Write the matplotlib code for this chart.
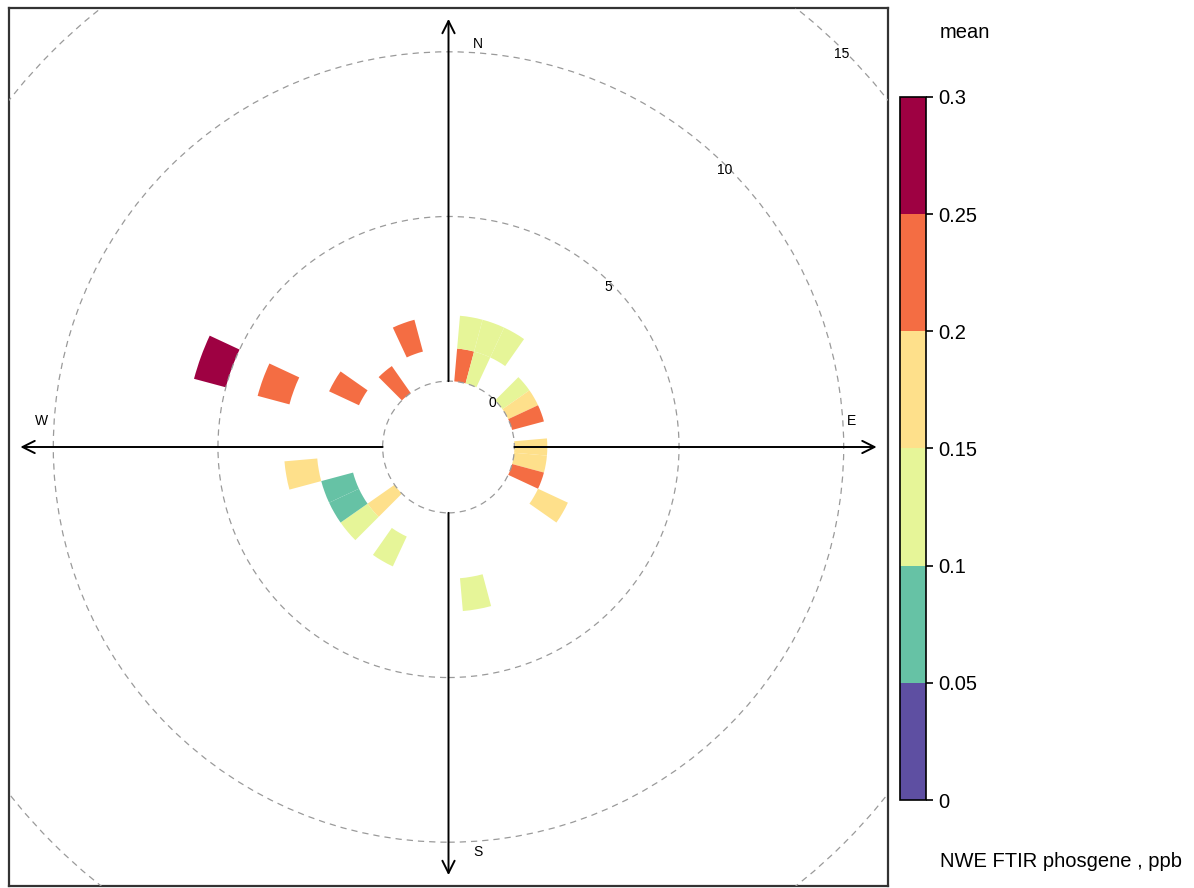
import matplotlib
matplotlib.use('Agg')
import matplotlib.pyplot as plt
import numpy as np
from matplotlib.patches import Wedge, Circle
from matplotlib.colors import ListedColormap, BoundaryNorm
from matplotlib.cm import ScalarMappable

plt.rcParams['font.family'] = ['Liberation Sans', 'DejaVu Sans']

# wind direction bin centres (deg), lower wind speed of each bin, mean concentration
wd = [10, 20, 10, 20, 30, 50, 60, 70, 90, 100, 110, 120, 170,
      210, 230, 230, 240, 250, 260, 290, 290, 300, 320, 340]
ws = [0, 0, 1, 1, 1, 0, 0, 0, 0, 0, 0, 1, 2,
      1, 0, 1, 1, 1, 2, 3, 5, 1, 0, 1]
mean_ppb = [0.22, 0.13, 0.12, 0.14, 0.13, 0.14, 0.18, 0.21, 0.17, 0.18, 0.22, 0.16, 0.13,
            0.12, 0.17, 0.14, 0.08, 0.07, 0.18, 0.23, 0.28, 0.22, 0.21, 0.24]

levels = [0, 0.05, 0.1, 0.15, 0.2, 0.25, 0.3]
level_labels = ['0', '0.05', '0.1', '0.15', '0.2', '0.25', '0.3']
colours = ['#5E4FA2', '#66C2A5', '#E6F598', '#FEE08B', '#F46D43', '#9E0142']
rings = [0, 5, 10, 15]

ws_int = 1
wd_int = 10
offset = 2.0
lim = 13.33

cmap = ListedColormap(colours)
norm = BoundaryNorm(levels, cmap.N)

fig = plt.figure(figsize=(11.94, 8.88), dpi=100)
ax = fig.add_axes([9 / 1194, 2 / 888, 879 / 1194, 878 / 888])
ax.set_xlim(-lim, lim)
ax.set_ylim(-lim, lim)
ax.set_aspect('equal')
ax.set_xticks([])
ax.set_yticks([])
for sp in ax.spines.values():
    sp.set_linewidth(1.6)
    sp.set_color('#333333')

# segments
for d, s, v in zip(wd, ws, mean_ppb):
    r_out = offset + s + ws_int
    t1 = 90 - (d + wd_int / 2)
    t2 = 90 - (d - wd_int / 2)
    ax.add_patch(Wedge((0, 0), r_out, t1, t2, width=ws_int,
                       facecolor=cmap(norm(v)), edgecolor='none', zorder=2))

# dashed speed rings
for r in rings:
    ax.add_patch(Circle((0, 0), offset + r, fill=False, ls=(0, (5, 4)),
                        lw=0.9, ec='#9a9a9a', zorder=3))
    a = np.deg2rad(45)
    rr = offset + r - 0.12
    ax.text(rr * np.cos(a), rr * np.sin(a), str(r), fontsize=10,
            ha='center', va='center', zorder=4)

# compass axes with open arrowheads
tip = 13.0
for dx, dy in [(0, 1), (0, -1), (1, 0), (-1, 0)]:
    ax.annotate('', xy=(dx * tip, dy * tip), xytext=(dx * offset, dy * offset),
                arrowprops=dict(arrowstyle='->', lw=1.4, color='black',
                                mutation_scale=22, shrinkA=0, shrinkB=0),
                zorder=5)

ax.text(0.88, 12.25, 'N', fontsize=10, ha='center', va='center')
ax.text(0.9, -12.3, 'S', fontsize=10, ha='center', va='center')
ax.text(12.25, 0.8, 'E', fontsize=10, ha='center', va='center')
ax.text(-12.35, 0.8, 'W', fontsize=10, ha='center', va='center')

# colour key
cax = fig.add_axes([900 / 1194, 88 / 888, 26 / 1194, 703 / 888])
cb = fig.colorbar(ScalarMappable(norm=norm, cmap=cmap), cax=cax,
                  boundaries=levels, ticks=levels, spacing='proportional')
cb.set_ticklabels(level_labels)
cb.outline.set_linewidth(1.2)
cax.tick_params(labelsize=14.5, length=5, width=1.2, pad=4)
fig.text(940 / 1194, 1 - 32 / 888, 'mean', fontsize=14.5, ha='left', va='center')
fig.text(940 / 1194, 1 - 861 / 888, 'NWE FTIR phosgene , ppb', fontsize=14.5,
         ha='left', va='center')

fig.savefig('out.png', dpi=100)
